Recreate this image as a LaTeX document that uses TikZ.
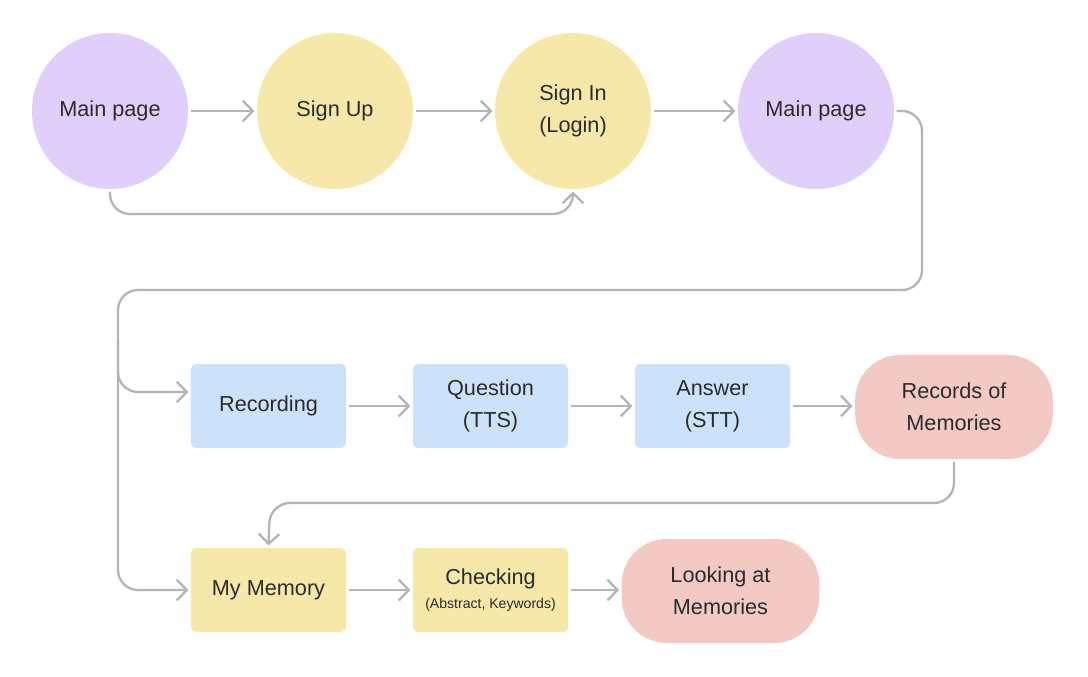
\documentclass[tikz,border=0pt]{standalone}
\usepackage{fontspec}
\setmainfont{Liberation Sans}
\usetikzlibrary{arrows.meta}
\definecolor{lavender}{HTML}{E1CFFB}
\definecolor{sand}{HTML}{F6E8A9}
\definecolor{sky}{HTML}{CCE2FB}
\definecolor{blush}{HTML}{F2CAC3}
\definecolor{wire}{HTML}{B5B5B5}
\definecolor{ink}{HTML}{2B2B2B}

\begin{document}
\begin{tikzpicture}[x=0.03cm,y=-0.03cm]
	\tikzset{every node/.style={text=ink,font=\fontsize{18.5}{27}\selectfont,align=center},
		page/.style={circle,minimum size=4.68cm,inner sep=0pt},
		stepbox/.style={rectangle,rounded corners=5*0.03cm,minimum width=4.65cm,minimum height=2.52cm,inner sep=0pt},
		pill/.style={rectangle,fill=blush,rounded corners=1.35cm,minimum width=5.93cm,minimum height=3.12cm,inner sep=0pt},
		link/.style={draw=wire,line width=2pt,rounded corners=0.6cm,-{Straight Barb[length=0.3cm,width=0.62cm,line width=2pt]},shorten >=2pt,shorten <=2pt}}
	\useasboundingbox (0,0) rectangle (1088,677);
	% login row
	\node[page,fill=lavender] (main1) at (110,111) {Main page};
	\node[page,fill=sand] (signup) at (335,111) {Sign Up};
	\node[page,fill=sand] (signin) at (573,111) {Sign In\\(Login)};
	\node[page,fill=lavender] (main2) at (816,111) {Main page};
	% recording row
	\node[stepbox,fill=sky] (rec) at (268.5,406) {Recording};
	\node[stepbox,fill=sky] (quest) at (490.5,406) {Question\\(TTS)};
	\node[stepbox,fill=sky] (answ) at (712.5,406) {Answer\\(STT)};
	\node[pill] (records) at (954,407) {Records of\\Memories};
	% memory row
	\node[stepbox,fill=sand] (mymem) at (268.5,590) {My Memory};
	\node[stepbox,fill=sand] (check) at (490.5,590) {Checking\\[-6pt]{\fontsize{12}{14}\selectfont(Abstract, Keywords)}};
	\node[pill] (looking) at (720.5,591) {Looking at\\Memories};
	\coordinate (bus) at (118,290);
	\draw[link] (main1) -- (signup);
	\draw[link] (signup) -- (signin);
	\draw[link] (signin) -- (main2);
	\draw[link] (main1.south) -- (110,214) -- (573,214) -- (signin.south);
	\draw[link] (main2.east) -- (922,111) -- (922,290) -- (bus) -- (118,590) -- (mymem.west);
	\draw[link,shorten <=0pt] (118,340) -- (118,392) -- (rec.west |- 0,392);
	\draw[link] (rec) -- (quest);
	\draw[link] (quest) -- (answ);
	\draw[link] (answ.east) -- (answ.east -| records.west);
	\draw[link] (records.south) -- (954,503) -- (270,503) -- (mymem.north);
	\draw[link] (mymem) -- (check);
	\draw[link] (check.east) -- (check.east -| looking.west);
\end{tikzpicture}
\end{document}
